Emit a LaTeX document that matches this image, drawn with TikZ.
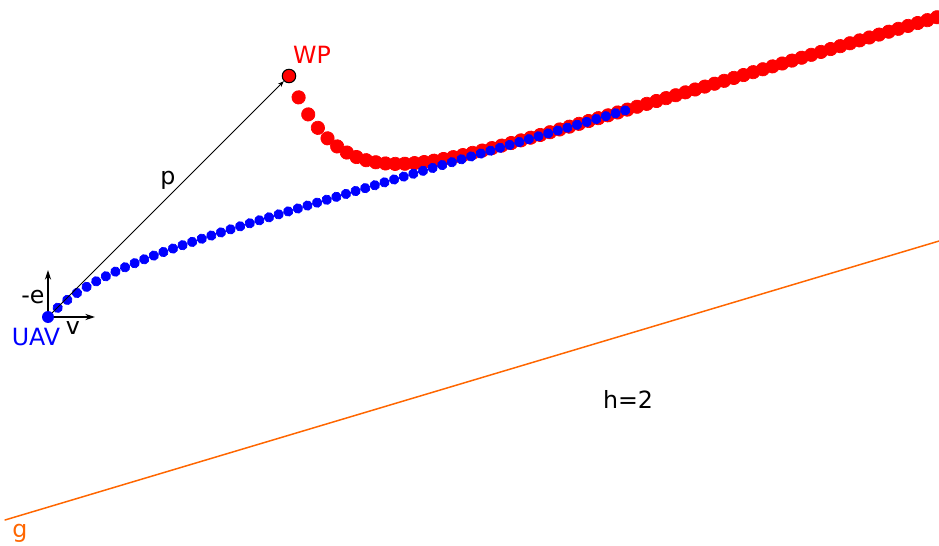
\documentclass[tikz,border=0pt]{standalone}
\usepackage{fontspec}
\setmainfont{DejaVu Sans}
\usetikzlibrary{arrows.meta}
\definecolor{gline}{HTML}{FF6600}
\tikzset{
  every picture/.style={line join=round, line cap=round, >=Stealth},
  dot/.style={circle, inner sep=0pt, minimum size=#1},
  lbl/.style={anchor=base, inner sep=0pt, font=\fontsize{13.5}{16}\selectfont},
}

\begin{document}
\begin{tikzpicture}[x=0.02cm,y=0.02cm]
\useasboundingbox (0,0) rectangle (939,545);
\clip (0,0) rectangle (939,545);
% frame of the line g
\begin{scope}[shift={(5,25)},rotate=16.63]
\draw[gline,line width=0.85pt](0,0)--(990,0);
\draw[red]plot[only marks,mark=*,mark size=3.8pt,mark options={draw=none,fill=red},domain=1:70,samples=70,variable=\n]
  ({399.2+10.1*\n-38.9*(1-0.82^\n)},{215+129.2*0.82^\n});
\draw[blue]plot[only marks,mark=*,mark size=2.7pt,mark options={draw=none,fill=blue},domain=1:60,samples=60,variable=\n]
  ({99.3+10.05*\n+9.2*(1-0.8^\n)},{215-32.8*exp(-(10.05*\n+9.2*(1-0.8^\n))/58)});
\end{scope}
\node[dot=0.24cm,fill=blue](UAV)at(48,228){};
\node[dot=0.27cm,fill=red,draw=black,line width=0.6pt](WP)at(289,469){};
\coordinate(etip)at(48,275);
\coordinate(vtip)at(95,228);
\draw[-{Stealth[length=5.5pt,width=3.5pt]},line width=0.7pt](UAV)--(etip);
\draw[-{Stealth[length=5.5pt,width=3.5pt]},line width=0.7pt](UAV)--(vtip);
\draw[-{Stealth[length=3.5pt,width=2.6pt]},line width=0.55pt](UAV)--(WP);
\node[lbl,red](wplabel)at(312,481){WP};
\node[lbl](plabel)at(168,360){p};
\node[lbl](elabel)at(33,242){-e};
\node[lbl](vlabel)at(73,211){v};
\node[lbl,blue](uavlabel)at(36,200){UAV};
\node[lbl](hlabel)at(628,137){h=2};
\node[lbl,gline](glabel)at(20,8){g};
\end{tikzpicture}
\end{document}
